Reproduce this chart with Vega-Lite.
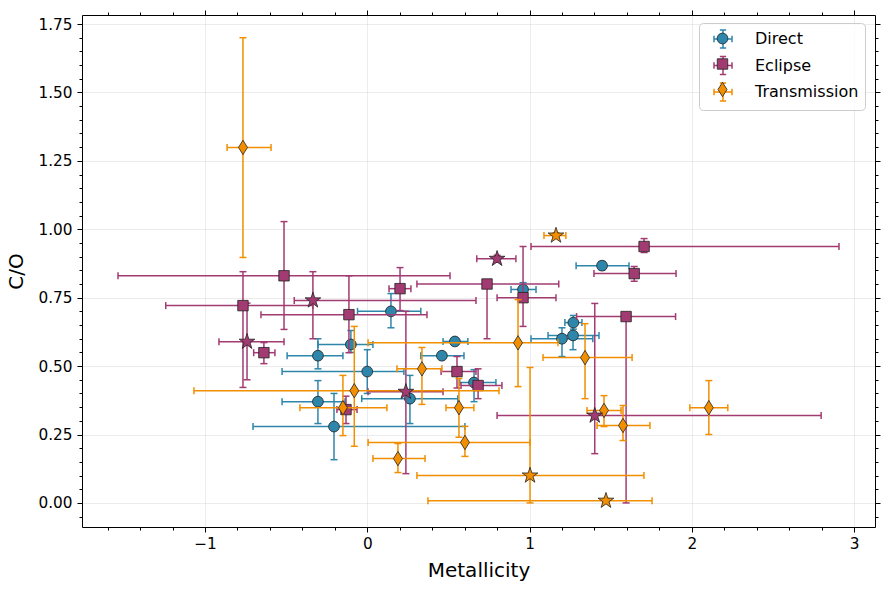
{
  "$schema": "https://vega.github.io/schema/vega-lite/v6.json",
  "width": 793,
  "height": 512,
  "autosize": {"type": "none"},
  "padding": {"left": 82, "top": 15, "right": 14, "bottom": 63},
  "background": "white",
  "config": {
    "font": "DejaVu Sans",
    "view": {"stroke": "black", "strokeWidth": 1},
    "axis": {
      "labelFont": "DejaVu Sans",
      "titleFont": "DejaVu Sans",
      "labelColor": "black",
      "titleColor": "black",
      "tickColor": "black",
      "tickWidth": 1,
      "domain": false,
      "labelFontSize": 15.3,
      "titleFontSize": 20,
      "titleFontWeight": "normal",
      "gridColor": "#b0b0b0",
      "gridOpacity": 0.3,
      "gridWidth": 0.8
    }
  },
  "resolve": {"axis": {"x": "independent", "y": "independent"}},
  "data": {
    "values": [
      {"method": "Direct", "x": 1.447, "xlo": 1.287, "xhi": 1.613, "y": 0.867, "ylo": 0.852, "yhi": 0.882, "highlight": false},
      {"method": "Direct", "x": 0.96, "xlo": 0.886, "xhi": 1.04, "y": 0.78, "ylo": 0.755, "yhi": 0.805, "highlight": false},
      {"method": "Direct", "x": 1.27, "xlo": 1.218, "xhi": 1.323, "y": 0.659, "ylo": 0.635, "yhi": 0.685, "highlight": false},
      {"method": "Direct", "x": 1.268, "xlo": 1.114, "xhi": 1.428, "y": 0.612, "ylo": 0.56, "yhi": 0.66, "highlight": false},
      {"method": "Direct", "x": 1.2, "xlo": 1.009, "xhi": 1.39, "y": 0.6, "ylo": 0.535, "yhi": 0.64, "highlight": false},
      {"method": "Direct", "x": 0.146, "xlo": -0.06, "xhi": 0.33, "y": 0.7, "ylo": 0.64, "yhi": 0.765, "highlight": false},
      {"method": "Direct", "x": 0.54, "xlo": 0.467, "xhi": 0.62, "y": 0.59, "ylo": 0.58, "yhi": 0.6, "highlight": false},
      {"method": "Direct", "x": 0.46, "xlo": 0.33, "xhi": 0.596, "y": 0.538, "ylo": 0.528, "yhi": 0.548, "highlight": false},
      {"method": "Direct", "x": -0.304, "xlo": -0.494, "xhi": -0.15, "y": 0.538, "ylo": 0.49, "yhi": 0.6, "highlight": false},
      {"method": "Direct", "x": -0.101, "xlo": -0.304, "xhi": 0.035, "y": 0.579, "ylo": 0.55, "yhi": 0.63, "highlight": false},
      {"method": "Direct", "x": 0.0, "xlo": -0.525, "xhi": 0.226, "y": 0.48, "ylo": 0.4, "yhi": 0.56, "highlight": false},
      {"method": "Direct", "x": -0.304, "xlo": -0.525, "xhi": -0.137, "y": 0.37, "ylo": 0.29, "yhi": 0.447, "highlight": false},
      {"method": "Direct", "x": -0.205, "xlo": -0.704, "xhi": 0.602, "y": 0.279, "ylo": 0.158, "yhi": 0.4, "highlight": false},
      {"method": "Direct", "x": 0.263, "xlo": -0.034, "xhi": 0.558, "y": 0.381, "ylo": 0.29, "yhi": 0.466, "highlight": false},
      {"method": "Direct", "x": 0.658, "xlo": 0.57, "xhi": 0.793, "y": 0.44, "ylo": 0.37, "yhi": 0.487, "highlight": false},

      {"method": "Eclipse", "x": 1.706, "xlo": 1.009, "xhi": 2.907, "y": 0.937, "ylo": 0.915, "yhi": 0.966, "highlight": false},
      {"method": "Eclipse", "x": 1.645, "xlo": 1.397, "xhi": 1.903, "y": 0.838, "ylo": 0.81, "yhi": 0.864, "highlight": false},
      {"method": "Eclipse", "x": 0.738, "xlo": 0.306, "xhi": 1.18, "y": 0.8, "ylo": 0.6, "yhi": 0.81, "highlight": false},
      {"method": "Eclipse", "x": 0.96, "xlo": 0.8, "xhi": 1.163, "y": 0.75, "ylo": 0.645, "yhi": 0.937, "highlight": false},
      {"method": "Eclipse", "x": 1.595, "xlo": 1.29, "xhi": 1.9, "y": 0.681, "ylo": 0.0, "yhi": 0.69, "highlight": false},
      {"method": "Eclipse", "x": 0.202, "xlo": 0.134, "xhi": 0.269, "y": 0.783, "ylo": 0.703, "yhi": 0.86, "highlight": false},
      {"method": "Eclipse", "x": -0.113, "xlo": -0.655, "xhi": 0.368, "y": 0.688, "ylo": 0.549, "yhi": 0.83, "highlight": false},
      {"method": "Eclipse", "x": -0.513, "xlo": -1.536, "xhi": 0.51, "y": 0.83, "ylo": 0.634, "yhi": 1.028, "highlight": false},
      {"method": "Eclipse", "x": -0.766, "xlo": -1.242, "xhi": -0.335, "y": 0.721, "ylo": 0.422, "yhi": 0.845, "highlight": false},
      {"method": "Eclipse", "x": -0.637, "xlo": -0.7, "xhi": -0.569, "y": 0.549, "ylo": 0.509, "yhi": 0.586, "highlight": false},
      {"method": "Eclipse", "x": 0.553, "xlo": 0.455, "xhi": 0.67, "y": 0.48, "ylo": 0.42, "yhi": 0.535, "highlight": false},
      {"method": "Eclipse", "x": 0.683, "xlo": 0.578, "xhi": 0.83, "y": 0.429, "ylo": 0.381, "yhi": 0.49, "highlight": false},
      {"method": "Eclipse", "x": -0.131, "xlo": -0.187, "xhi": -0.063, "y": 0.341, "ylo": 0.29, "yhi": 0.39, "highlight": false},
      {"method": "Eclipse", "x": -0.335, "xlo": -0.45, "xhi": 0.67, "y": 0.74, "ylo": 0.6, "yhi": 0.845, "highlight": true},
      {"method": "Eclipse", "x": -0.741, "xlo": -0.914, "xhi": -0.513, "y": 0.589, "ylo": 0.45, "yhi": 0.73, "highlight": true},
      {"method": "Eclipse", "x": 0.8, "xlo": 0.675, "xhi": 0.916, "y": 0.892, "ylo": 0.88, "yhi": 0.905, "highlight": true},
      {"method": "Eclipse", "x": 0.238, "xlo": 0.005, "xhi": 0.467, "y": 0.406, "ylo": 0.107, "yhi": 0.7, "highlight": true},
      {"method": "Eclipse", "x": 1.402, "xlo": 0.8, "xhi": 2.797, "y": 0.319, "ylo": 0.18, "yhi": 0.729, "highlight": true},

      {"method": "Transmission", "x": -0.766, "xlo": -0.864, "xhi": -0.593, "y": 1.299, "ylo": 0.897, "yhi": 1.7, "highlight": false},
      {"method": "Transmission", "x": 0.929, "xlo": 0.005, "xhi": 1.175, "y": 0.585, "ylo": 0.425, "yhi": 0.743, "highlight": false},
      {"method": "Transmission", "x": 1.342, "xlo": 1.083, "xhi": 1.632, "y": 0.531, "ylo": 0.381, "yhi": 0.655, "highlight": false},
      {"method": "Transmission", "x": 0.337, "xlo": 0.183, "xhi": 0.46, "y": 0.49, "ylo": 0.36, "yhi": 0.568, "highlight": false},
      {"method": "Transmission", "x": -0.08, "xlo": -1.068, "xhi": 0.812, "y": 0.41, "ylo": 0.207, "yhi": 0.645, "highlight": false},
      {"method": "Transmission", "x": -0.15, "xlo": -0.415, "xhi": 0.121, "y": 0.348, "ylo": 0.246, "yhi": 0.466, "highlight": false},
      {"method": "Transmission", "x": 0.565, "xlo": 0.485, "xhi": 0.657, "y": 0.348, "ylo": 0.24, "yhi": 0.455, "highlight": false},
      {"method": "Transmission", "x": 0.602, "xlo": 0.005, "xhi": 1.003, "y": 0.221, "ylo": 0.17, "yhi": 0.28, "highlight": false},
      {"method": "Transmission", "x": 0.189, "xlo": 0.035, "xhi": 0.356, "y": 0.162, "ylo": 0.111, "yhi": 0.217, "highlight": false},
      {"method": "Transmission", "x": 1.459, "xlo": 1.354, "xhi": 1.564, "y": 0.338, "ylo": 0.279, "yhi": 0.392, "highlight": false},
      {"method": "Transmission", "x": 1.576, "xlo": 1.416, "xhi": 1.742, "y": 0.283, "ylo": 0.228, "yhi": 0.356, "highlight": false},
      {"method": "Transmission", "x": 2.105, "xlo": 1.988, "xhi": 2.222, "y": 0.348, "ylo": 0.25, "yhi": 0.447, "highlight": false},
      {"method": "Transmission", "x": 1.163, "xlo": 1.089, "xhi": 1.224, "y": 0.977, "ylo": 0.967, "yhi": 0.987, "highlight": true},
      {"method": "Transmission", "x": 1.003, "xlo": 0.306, "xhi": 1.705, "y": 0.1, "ylo": 0.0, "yhi": 0.495, "highlight": true},
      {"method": "Transmission", "x": 1.471, "xlo": 0.374, "xhi": 1.755, "y": 0.008, "ylo": 0.0, "yhi": 0.016, "highlight": true}
    ]
  },
  "layer": [
    {
      "mark": {"type": "point", "opacity": 0},
      "encoding": {
        "x": {"field": "x", "type": "quantitative",
          "scale": {"domain": [-1.758, 3.129], "nice": false, "zero": false},
          "axis": {"orient": "bottom", "values": [-1, 0, 1, 2, 3], "format": "d", "grid": true, "tickSize": 5, "labelPadding": 4, "title": "Metallicity", "titlePadding": 9}},
        "y": {"field": "y", "type": "quantitative",
          "scale": {"domain": [-0.088, 1.783], "nice": false, "zero": false},
          "axis": {"orient": "left", "values": [0, 0.25, 0.5, 0.75, 1, 1.25, 1.5, 1.75], "format": ".2f", "grid": true, "tickSize": 5, "labelPadding": 5, "title": "C/O", "titlePadding": 11}}
      }
    },
    {
      "mark": {"type": "point", "opacity": 0},
      "encoding": {
        "x": {"field": "x", "type": "quantitative",
          "scale": {"domain": [-1.758, 3.129], "nice": false, "zero": false},
          "axis": {"orient": "bottom", "values": [-1.6, -1.4, -1.2, -0.8, -0.6, -0.4, -0.2, 0.2, 0.4, 0.6, 0.8, 1.2, 1.4, 1.6, 1.8, 2.2, 2.4, 2.6, 2.8], "labels": false, "grid": false, "tickSize": 3, "title": null}},
        "y": {"field": "y", "type": "quantitative",
          "scale": {"domain": [-0.088, 1.783], "nice": false, "zero": false},
          "axis": {"orient": "left", "values": [-0.05, 0.05, 0.1, 0.15, 0.2, 0.3, 0.35, 0.4, 0.45, 0.55, 0.6, 0.65, 0.7, 0.8, 0.85, 0.9, 0.95, 1.05, 1.1, 1.15, 1.2, 1.3, 1.35, 1.4, 1.45, 1.55, 1.6, 1.65, 1.7], "labels": false, "grid": false, "tickSize": 3, "title": null}}
      }
    },
    {
      "mark": {"type": "point", "opacity": 0},
      "encoding": {
        "x": {"field": "x", "type": "quantitative",
          "scale": {"domain": [-1.758, 3.129], "nice": false, "zero": false},
          "axis": {"orient": "top", "values": [-1, 0, 1, 2, 3], "labels": false, "grid": false, "tickSize": 5, "title": null}},
        "y": {"field": "y", "type": "quantitative",
          "scale": {"domain": [-0.088, 1.783], "nice": false, "zero": false},
          "axis": {"orient": "right", "values": [0, 0.25, 0.5, 0.75, 1, 1.25, 1.5, 1.75], "labels": false, "grid": false, "tickSize": 5, "title": null}}
      }
    },
    {
      "mark": {"type": "point", "opacity": 0},
      "encoding": {
        "x": {"field": "x", "type": "quantitative",
          "scale": {"domain": [-1.758, 3.129], "nice": false, "zero": false},
          "axis": {"orient": "top", "values": [-1.6, -1.4, -1.2, -0.8, -0.6, -0.4, -0.2, 0.2, 0.4, 0.6, 0.8, 1.2, 1.4, 1.6, 1.8, 2.2, 2.4, 2.6, 2.8], "labels": false, "grid": false, "tickSize": 3, "title": null}},
        "y": {"field": "y", "type": "quantitative",
          "scale": {"domain": [-0.088, 1.783], "nice": false, "zero": false},
          "axis": {"orient": "right", "values": [-0.05, 0.05, 0.1, 0.15, 0.2, 0.3, 0.35, 0.4, 0.45, 0.55, 0.6, 0.65, 0.7, 0.8, 0.85, 0.9, 0.95, 1.05, 1.1, 1.15, 1.2, 1.3, 1.35, 1.4, 1.45, 1.55, 1.6, 1.65, 1.7], "labels": false, "grid": false, "tickSize": 3, "title": null}}
      }
    },
    {
      "transform": [{"filter": "datum.method === 'Direct'"}],
      "layer": [
        {
          "mark": {"type": "rule", "strokeWidth": 1.5},
          "encoding": {
            "x": {"field": "xlo", "type": "quantitative", "axis": null},
            "x2": {"field": "xhi"},
            "y": {"field": "y", "type": "quantitative", "axis": null},
            "color": {"field": "method", "type": "nominal",
              "scale": {"range": ["#2E86AB", "#A23B72", "#F18F01"]},
              "legend": {
                "orient": "none", "legendX": 617, "legendY": 8, "title": null,
                "symbolType": "M-1,0L1,0M0,-1L0,1M-1,-0.35L-1,0.35M1,-0.35L1,0.35M-0.35,-1L0.35,-1M-0.35,1L0.35,1",
                "symbolSize": 324, "symbolStrokeWidth": 1.5, "symbolFillColor": "transparent",
                "labelFont": "DejaVu Sans", "labelFontSize": 16, "labelColor": "black",
                "padding": 6, "symbolOffset": 8, "labelOffset": 22, "rowPadding": 2.5,
                "fillColor": "rgba(255,255,255,0.8)", "strokeColor": "#cccccc", "cornerRadius": 4
              }}
          }
        },
        {
          "mark": {"type": "rule", "strokeWidth": 1.5},
          "encoding": {
            "x": {"field": "x", "type": "quantitative", "axis": null},
            "y": {"field": "ylo", "type": "quantitative", "axis": null},
            "y2": {"field": "yhi"},
            "color": {"field": "method", "type": "nominal"}
          }
        },
        {
          "transform": [{"fold": ["xlo", "xhi"], "as": ["end", "cx"]}],
          "mark": {"type": "tick", "orient": "vertical", "size": 7, "thickness": 1.5, "opacity": 1},
          "encoding": {
            "x": {"field": "cx", "type": "quantitative", "axis": null},
            "y": {"field": "y", "type": "quantitative", "axis": null},
            "color": {"field": "method", "type": "nominal", "legend": null}
          }
        },
        {
          "transform": [{"fold": ["ylo", "yhi"], "as": ["end", "cy"]}],
          "mark": {"type": "tick", "orient": "horizontal", "size": 7, "thickness": 1.5, "opacity": 1},
          "encoding": {
            "x": {"field": "x", "type": "quantitative", "axis": null},
            "y": {"field": "cy", "type": "quantitative", "axis": null},
            "color": {"field": "method", "type": "nominal", "legend": null}
          }
        },
        {
          "transform": [{"filter": "!datum.highlight"}],
          "mark": {"type": "point", "filled": true, "opacity": 1, "size": 324, "stroke": "#222222", "strokeWidth": 0.8},
          "encoding": {
            "x": {"field": "x", "type": "quantitative", "axis": null},
            "y": {"field": "y", "type": "quantitative", "axis": null},
            "fill": {"field": "method", "type": "nominal",
              "scale": {"domain": ["Direct", "Eclipse", "Transmission"], "range": ["#2E86AB", "#A23B72", "#F18F01"]},
              "legend": {
                "orient": "none", "legendX": 617, "legendY": 8, "title": null,
                "symbolSize": 324, "symbolStrokeColor": "#222222", "symbolStrokeWidth": 0.8,
                "labelFont": "DejaVu Sans", "labelFontSize": 16, "labelOpacity": 0,
                "padding": 6, "symbolOffset": 8, "labelOffset": -150, "rowPadding": 2.5
              }},
            "shape": {"field": "method", "type": "nominal",
              "scale": {"domain": ["Direct", "Eclipse", "Transmission"],
                "range": [
                  "M-1,-1L-1,-1M1,1L1,1M0.6,0C0.6,0.3314,0.3314,0.6,0,0.6C-0.3314,0.6,-0.6,0.3314,-0.6,0C-0.6,-0.3314,-0.3314,-0.6,0,-0.6C0.3314,-0.6,0.6,-0.3314,0.6,0Z",
                  "M-1,-1L-1,-1M1,1L1,1M-0.58,-0.58L0.58,-0.58L0.58,0.58L-0.58,0.58Z",
                  "M-1,-1L-1,-1M1,1L1,1M0,-0.8L0.5,0L0,0.8L-0.5,0Z"
                ]}}
          }
        }
      ]
    },
    {
      "transform": [{"filter": "datum.method === 'Eclipse'"}],
      "layer": [
        {
          "mark": {"type": "rule", "strokeWidth": 1.5},
          "encoding": {
            "x": {"field": "xlo", "type": "quantitative", "axis": null},
            "x2": {"field": "xhi"},
            "y": {"field": "y", "type": "quantitative", "axis": null},
            "color": {"field": "method", "type": "nominal"}
          }
        },
        {
          "mark": {"type": "rule", "strokeWidth": 1.5},
          "encoding": {
            "x": {"field": "x", "type": "quantitative", "axis": null},
            "y": {"field": "ylo", "type": "quantitative", "axis": null},
            "y2": {"field": "yhi"},
            "color": {"field": "method", "type": "nominal"}
          }
        },
        {
          "transform": [{"fold": ["xlo", "xhi"], "as": ["end", "cx"]}],
          "mark": {"type": "tick", "orient": "vertical", "size": 7, "thickness": 1.5, "opacity": 1},
          "encoding": {
            "x": {"field": "cx", "type": "quantitative", "axis": null},
            "y": {"field": "y", "type": "quantitative", "axis": null},
            "color": {"field": "method", "type": "nominal", "legend": null}
          }
        },
        {
          "transform": [{"fold": ["ylo", "yhi"], "as": ["end", "cy"]}],
          "mark": {"type": "tick", "orient": "horizontal", "size": 7, "thickness": 1.5, "opacity": 1},
          "encoding": {
            "x": {"field": "x", "type": "quantitative", "axis": null},
            "y": {"field": "cy", "type": "quantitative", "axis": null},
            "color": {"field": "method", "type": "nominal", "legend": null}
          }
        },
        {
          "transform": [{"filter": "!datum.highlight"}],
          "mark": {"type": "point", "filled": true, "opacity": 1, "size": 324, "stroke": "#222222", "strokeWidth": 0.8},
          "encoding": {
            "x": {"field": "x", "type": "quantitative", "axis": null},
            "y": {"field": "y", "type": "quantitative", "axis": null},
            "fill": {"field": "method", "type": "nominal"},
            "shape": {"field": "method", "type": "nominal"}
          }
        }
      ]
    },
    {
      "transform": [{"filter": "datum.method === 'Transmission'"}],
      "layer": [
        {
          "mark": {"type": "rule", "strokeWidth": 1.5},
          "encoding": {
            "x": {"field": "xlo", "type": "quantitative", "axis": null},
            "x2": {"field": "xhi"},
            "y": {"field": "y", "type": "quantitative", "axis": null},
            "color": {"field": "method", "type": "nominal"}
          }
        },
        {
          "mark": {"type": "rule", "strokeWidth": 1.5},
          "encoding": {
            "x": {"field": "x", "type": "quantitative", "axis": null},
            "y": {"field": "ylo", "type": "quantitative", "axis": null},
            "y2": {"field": "yhi"},
            "color": {"field": "method", "type": "nominal"}
          }
        },
        {
          "transform": [{"fold": ["xlo", "xhi"], "as": ["end", "cx"]}],
          "mark": {"type": "tick", "orient": "vertical", "size": 7, "thickness": 1.5, "opacity": 1},
          "encoding": {
            "x": {"field": "cx", "type": "quantitative", "axis": null},
            "y": {"field": "y", "type": "quantitative", "axis": null},
            "color": {"field": "method", "type": "nominal", "legend": null}
          }
        },
        {
          "transform": [{"fold": ["ylo", "yhi"], "as": ["end", "cy"]}],
          "mark": {"type": "tick", "orient": "horizontal", "size": 7, "thickness": 1.5, "opacity": 1},
          "encoding": {
            "x": {"field": "x", "type": "quantitative", "axis": null},
            "y": {"field": "cy", "type": "quantitative", "axis": null},
            "color": {"field": "method", "type": "nominal", "legend": null}
          }
        },
        {
          "transform": [{"filter": "!datum.highlight"}],
          "mark": {"type": "point", "filled": true, "opacity": 1, "size": 324, "stroke": "#222222", "strokeWidth": 0.8},
          "encoding": {
            "x": {"field": "x", "type": "quantitative", "axis": null},
            "y": {"field": "y", "type": "quantitative", "axis": null},
            "fill": {"field": "method", "type": "nominal"},
            "shape": {"field": "method", "type": "nominal"}
          }
        }
      ]
    },
    {
      "transform": [{"filter": "datum.highlight"}],
      "mark": {"type": "point", "filled": true, "opacity": 1, "size": 324, "stroke": "#222222", "strokeWidth": 0.8,
        "shape": "M0,-0.92L0.206,-0.284L0.875,-0.284L0.334,0.108L0.541,0.744L0,0.351L-0.541,0.744L-0.334,0.108L-0.875,-0.284L-0.206,-0.284Z"},
      "encoding": {
        "x": {"field": "x", "type": "quantitative", "axis": null},
        "y": {"field": "y", "type": "quantitative", "axis": null},
        "fill": {"field": "method", "type": "nominal", "legend": null}
      }
    }
  ]
}
